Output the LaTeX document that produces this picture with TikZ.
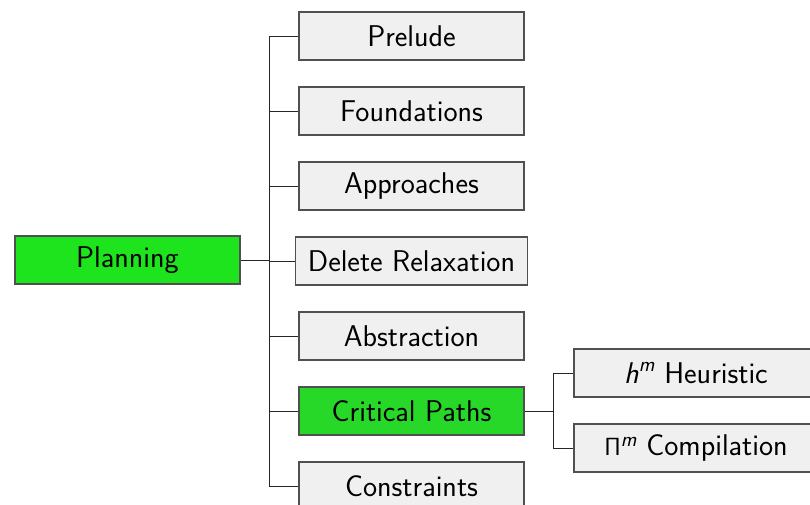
\documentclass[tikz,border=0pt]{standalone}
\usepackage{amsmath}
\definecolor{plangreen}{RGB}{30,228,30}
\definecolor{cpgreen}{RGB}{40,216,40}
\definecolor{boxgray}{RGB}{240,240,240}
\definecolor{boxborder}{RGB}{80,80,80}
\newcommand{\sfit}[1]{\text{\sffamily\itshape #1}}
\begin{document}
\begin{tikzpicture}[x=1pt,y=-1pt,
  box/.style={draw=boxborder, line width=1.1pt, fill=boxgray, minimum width=225pt, minimum height=48pt,
    inner xsep=12pt, inner ysep=6pt, font=\fontsize{30}{34}\selectfont\sffamily},
  hot/.style={box, fill=plangreen},
  hot2/.style={box, fill=cpgreen},
  wide/.style={box, minimum width=244pt},
  link/.style={draw=black!85, line width=1pt}]
\useasboundingbox (0,0) rectangle (810,504);
\node[hot] (plan) at (127.5,260) {Planning};
\node[box] (c1) at (411.5,36) {Prelude};
\node[box] (c2) at (411.5,111) {Foundations};
\node[box] (c3) at (411.5,186) {Approaches};
\node[box] (c4) at (411.5,261) {Delete Relaxation};
\node[box] (c5) at (411.5,336) {Abstraction};
\node[hot2] (c6) at (411.5,411) {Critical Paths};
\node[box] (c7) at (411.5,486) {Constraints};
\node[wide] (g1) at (696,373) {$\sfit{h}^{\sfit{m}}$ Heuristic};
\node[wide] (g2) at (696,448) {$\mathsf{\Pi}^{\sfit{m}}$ Compilation};
\coordinate (t1) at (269,260);
\coordinate (t2) at (553,411);
\draw[link] (plan.east) -- (t1);
\foreach \c in {c1,c2,c3,c4,c5,c6,c7} \draw[link] (t1) |- (\c.west);
\draw[link] (c6.east) -- (t2);
\foreach \c in {g1,g2} \draw[link] (t2) |- (\c.west);
\end{tikzpicture}
\end{document}
